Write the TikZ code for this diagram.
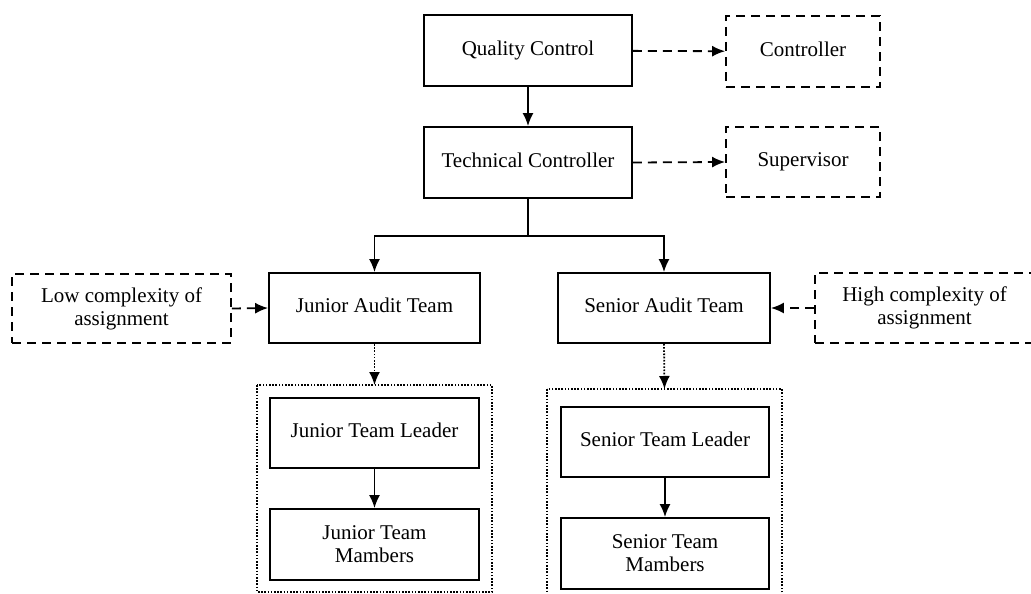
\documentclass[tikz,border=0pt]{standalone}
\usepackage{fontspec}
\setmainfont{Liberation Serif}
\usetikzlibrary{arrows.meta}
\begin{document}
\begin{tikzpicture}[x=1pt,y=-1pt,
  box/.style={draw, line width=1.8pt, minimum width=#1, inner sep=0pt, align=center, font=\fontsize{21}{23}\selectfont},
  box/.default=208pt,
  one/.style={text height=14pt, text depth=4.5pt},
  dbox/.style={box=#1, dash pattern=on 9pt off 6pt},
  dbox/.default=154pt,
  cont/.style={draw, line width=1.6pt, dash pattern=on 1.6pt off 1.6pt},
  arr/.style={line width=1.8pt, -{Latex[length=13pt,width=11pt]}},
  darr/.style={arr, dash pattern=on 9pt off 6pt},
  oarr/.style={arr, dash pattern=on 1.6pt off 1.6pt}]
\useasboundingbox (0,0) rectangle (1031,594);
% containers
\draw[cont] (257,385) rectangle (492,592);
\draw[cont] (547,389) rectangle (782,610);
% nodes
\node[box, one, minimum height=71pt] (qc) at (528,50.5) {Quality Control};
\node[dbox, one, minimum height=71pt] (ctrl) at (803,51.5) {Controller};
\node[box, one, minimum height=71pt] (tc) at (528,162.5) {Technical Controller};
\node[dbox, one, minimum height=70pt] (sup) at (803,162) {Supervisor};
\node[box=211pt, one, minimum height=70pt] (jat) at (374.5,308) {Junior Audit Team};
\node[box=212pt, one, minimum height=70pt] (sat) at (664,308) {Senior Audit Team};
\node[dbox=219pt, minimum height=69pt] (low) at (121.5,308.5) {Low complexity of\\assignment};
\node[dbox=219pt, minimum height=70pt] (high) at (924.5,308) {High complexity of\\assignment};
\node[box=209pt, one, minimum height=70pt] (jtl) at (374.5,433) {Junior Team Leader};
\node[box=209pt, minimum height=71pt] (jtm) at (374.5,544.5) {Junior Team\\Mambers};
\node[box, one, minimum height=70pt] (stl) at (665,442) {Senior Team Leader};
\node[box, minimum height=71pt] (stm) at (665,553.5) {Senior Team\\Mambers};
\coordinate (jc) at (374.5,385);
\coordinate (sc) at (664.5,389);
\coordinate (br) at (528,236);
% connectors
\draw[arr] (qc) -- (tc);
\draw[darr] (qc) -- (ctrl);
\draw[darr] (tc.east) -- (sup.west);
\draw[arr] (tc.south) -- (br) -| (jat.north);
\draw[arr] (br) -| (sat.north);
\draw[darr] (low.east) -- (jat.west);
\draw[darr] (high.west) -- (sat.east);
\draw[oarr] (jat.south) -- (jc);
\draw[oarr] (sat.south) -- (sc);
\draw[arr] (jtl) -- (jtm);
\draw[arr] (stl) -- (stm);
\end{tikzpicture}
\end{document}
